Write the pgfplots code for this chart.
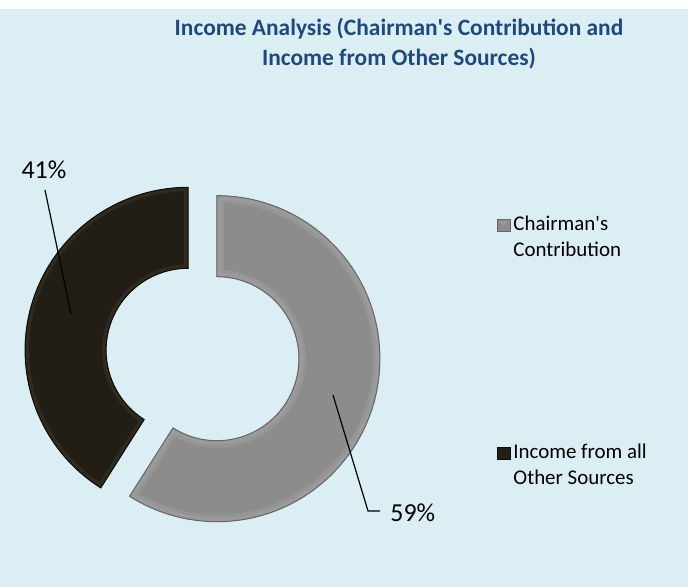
\documentclass[border=0pt]{standalone}
\usepackage{pgfplots}
\pgfplotsset{compat=1.18}
\usepackage{pgfplotstable}
\usepackage{fontspec}
\setmainfont{Carlito}
\definecolor{bg}{HTML}{DBEEF4}
\definecolor{titleblue}{HTML}{1F497D}
\definecolor{greyseg}{HTML}{8C8C8C}
\definecolor{greyhi}{HTML}{9B9B9B}
\definecolor{greyrim}{HTML}{666666}
\definecolor{blackseg}{HTML}{221E15}
\definecolor{blackhi}{HTML}{302B1F}
\definecolor{blackrim}{HTML}{0C0A06}

\pgfplotstableread{
label value
Chairman 59
Others 41
}\incometable

\def\seg#1#2{(#1:81.5bp) arc[start angle=#1,end angle=#2,radius=81.5bp] -- (#2:41bp) arc[start angle=#2,end angle=#1,radius=41bp] -- cycle}

\begin{document}
\pgfplotstablegetelem{0}{value}\of\incometable \let\va\pgfplotsretval
\pgfplotstablegetelem{1}{value}\of\incometable \let\vb\pgfplotsretval
\begin{tikzpicture}
\pgfmathsetmacro\tot{\va+\vb}
\pgfmathsetmacro\frac{\va/\tot}
\pgfmathsetmacro\aStart{90}
\pgfmathsetmacro\aMid{90-360*\frac}
\pgfmathsetmacro\aEnd{90-360}
\pgfmathsetmacro\ma{(\aStart+\aMid)/2}
\pgfmathsetmacro\mb{(\aMid+\aEnd)/2}
\pgfmathsetmacro\cax{202.5+15*cos(\ma)}
\pgfmathsetmacro\cay{232.5+15*sin(\ma)}
\pgfmathsetmacro\cbx{202.5+15*cos(\mb)}
\pgfmathsetmacro\cby{232.5+15*sin(\mb)}
\begin{axis}[
  width=344bp, height=293.5bp, scale only axis,
  xmin=0, xmax=688, ymin=0, ymax=587,
  enlargelimits=false, hide axis, clip=false,
]
% background
\fill[white] (axis cs:0,0) rectangle (axis cs:688,587);
\fill[bg] (axis cs:0,0) rectangle (axis cs:688,578);

% grey segment (Chairman's Contribution)
\begin{scope}[shift={(axis cs:\cax,\cay)}]
  \fill[greyseg] \seg{\aStart}{\aMid};
  \begin{scope}
    \clip \seg{\aStart}{\aMid};
    \draw[greyhi, line width=4bp] \seg{\aStart}{\aMid};
    \draw[greyhi!60!greyseg, line width=7bp] \seg{\aStart}{\aMid};
    \draw[greyhi, line width=4bp] \seg{\aStart}{\aMid};
  \end{scope}
  \draw[greyrim, line width=0.5bp] \seg{\aStart}{\aMid};
\end{scope}

% black segment (Income from all Other Sources)
\begin{scope}[shift={(axis cs:\cbx,\cby)}]
  \fill[blackseg] \seg{\aMid}{\aEnd};
  \begin{scope}
    \clip \seg{\aMid}{\aEnd};
    \draw[blackhi, line width=4bp] \seg{\aMid}{\aEnd};
  \end{scope}
  \draw[blackrim, line width=0.5bp] \seg{\aMid}{\aEnd};
\end{scope}

% leader lines and data labels
\draw[black, line width=0.6bp] (axis cs:45,397) -- (axis cs:71,273);
\node[anchor=base, inner sep=0pt, font=\fontsize{13}{15}\selectfont] at (axis cs:44,408) {41\%};
\draw[black, line width=0.6bp] (axis cs:333,192) -- (axis cs:368,76) -- (axis cs:380,76);
\node[anchor=base west, inner sep=0pt, font=\fontsize{13}{15}\selectfont] at (axis cs:390,65) {59\%};

% title
\node[anchor=base, inner sep=0pt, text=titleblue, font=\fontsize{11.75}{13}\selectfont\bfseries] at (axis cs:399,551) {Income Analysis (Chairman\textquotesingle s Contribution and};
\node[anchor=base, inner sep=0pt, text=titleblue, font=\fontsize{11.75}{13}\selectfont\bfseries] at (axis cs:399,521) {Income from Other Sources)};

% legend
\fill[greyseg] (axis cs:497,356) rectangle (axis cs:510,368);
\fill[greyhi] (axis cs:499,366) -- (axis cs:508,366) -- (axis cs:503.5,361) -- cycle;
\draw[greyrim, line width=0.4bp] (axis cs:497,356) rectangle (axis cs:510,368);
\fill[blackseg] (axis cs:497,128) rectangle (axis cs:510,140);
\draw[blackrim, line width=0.4bp] (axis cs:497,128) rectangle (axis cs:510,140);
\node[anchor=base west, inner sep=0pt, font=\fontsize{10.5}{12}\selectfont] at (axis cs:513,356) {Chairman\textquotesingle s};
\node[anchor=base west, inner sep=0pt, font=\fontsize{10.5}{12}\selectfont] at (axis cs:513,330) {Contribution};
\node[anchor=base west, inner sep=0pt, font=\fontsize{10.5}{12}\selectfont] at (axis cs:513,128) {Income from all};
\node[anchor=base west, inner sep=0pt, font=\fontsize{10.5}{12}\selectfont] at (axis cs:513,102) {Other Sources};
\end{axis}
\end{tikzpicture}
\end{document}
